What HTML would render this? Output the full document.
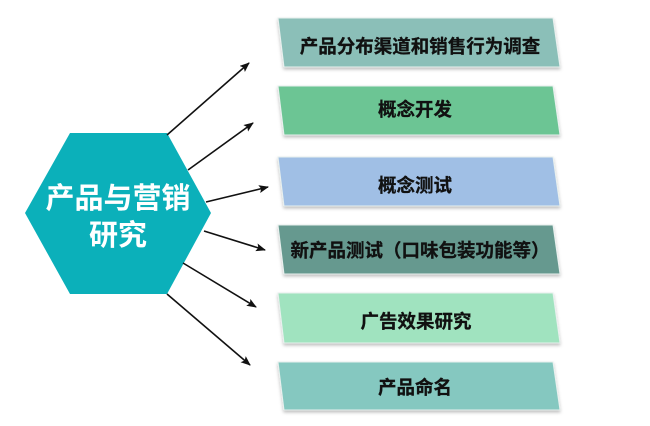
<!DOCTYPE html>
<html><head><meta charset="utf-8"><style>
html,body{margin:0;padding:0;background:#fff;width:650px;height:426px;overflow:hidden}
svg{display:block}
text{font-family:"Liberation Sans","Noto Sans CJK SC",sans-serif;font-weight:bold}
</style></head><body>
<svg width="650" height="426" viewBox="0 0 650 426">
<defs>
<marker id="a" markerWidth="10" markerHeight="8" refX="9" refY="4" orient="auto" markerUnits="userSpaceOnUse"><path d="M0,0 L10,4 L0,8 L2,4 Z" fill="#111"/></marker>
<filter id="s" x="-5%" y="-10%" width="110%" height="130%"><feDropShadow dx="0" dy="2" stdDeviation="1.5" flood-color="#000" flood-opacity="0.25"/></filter>
</defs>
<g filter="url(#s)" stroke="#e8f0ee" stroke-width="1">
<polygon points="278,18 553,18 560,67 284,67" fill="#8bbfb8"/>
<polygon points="278,86 553,86 560,135 284,135" fill="#6cc594"/>
<polygon points="278,157 553,157 560,206 284,206" fill="#a0bfe5"/>
<polygon points="278,225 553,225 560,274 284,274" fill="#66998f"/>
<polygon points="278,293 553,293 560,343 284,343" fill="#a0e3bf"/>
<polygon points="278,362 553,362 560,410 284,410" fill="#85c8c0"/>
</g>
<g font-size="18.5" fill="#111" text-anchor="middle" stroke="#111" stroke-width="0.3">
<text x="420" y="53">产品分布渠道和销售行为调查</text>
<text x="415" y="116">概念开发</text>
<text x="415" y="192">概念测试</text>
<text x="420" y="257">新产品测试（口味包装功能等）</text>
<text x="416" y="328">广告效果研究</text>
<text x="415" y="394">产品命名</text>
</g>
<polygon points="70,133 167,133 211,213 167,294 70,294 25,213" fill="#0bb0ba"/>
<g font-size="29" fill="#fff" text-anchor="middle">
<text x="118" y="208">产品与营销</text>
<text x="118" y="245">研究</text>
</g>
<g stroke="#111" stroke-width="1.6" marker-end="url(#a)">
<line x1="167" y1="135" x2="249" y2="63"/>
<line x1="188" y1="170" x2="253" y2="123"/>
<line x1="206" y1="202" x2="268" y2="187"/>
<line x1="204" y1="231" x2="265" y2="250"/>
<line x1="183" y1="263" x2="256" y2="307"/>
<line x1="167" y1="294" x2="250" y2="365"/>
</g>
</svg>
</body></html>
